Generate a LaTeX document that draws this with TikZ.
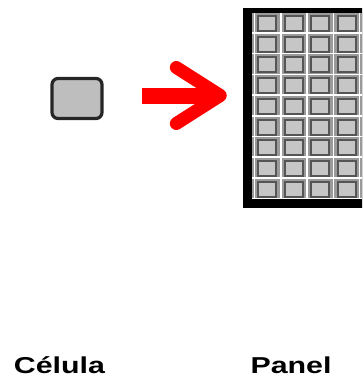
\documentclass[tikz,border=0pt]{standalone}
\usepackage{fontspec}
\setmainfont{Liberation Sans}
\newfontfamily\pvlabelfont[FakeStretch=1.32]{Liberation Sans Bold}
\usepackage{tikz}
\usetikzlibrary{arrows.meta,calc,positioning}
\definecolor{cellgray}{HTML}{BEBEBE}
\definecolor{cellline}{HTML}{262626}
\definecolor{modfill}{HTML}{C6C6C6}
\definecolor{modline}{HTML}{555555}
\definecolor{gapgray}{HTML}{9A9A9A}
\tikzset{
	pv diagram/.style={x=1pt,y=-1pt},
	cell/.style={draw=cellline,fill=cellgray,line width=3.2pt,
		rounded corners=6pt,minimum width=50pt,minimum height=40pt,inner sep=0pt},
	panel/.style={fill=black,minimum width=129pt,minimum height=200pt,inner sep=0pt},
	module/.style={draw=modline,fill=modfill,line width=2pt},
	gridline/.style={draw=white,line width=1.5pt},
	bigarrow/.style={draw=red,line width=16pt,
		-{Straight Barb[length=44pt,width=56pt,line width=13pt,round]}},
	pv name/.style={font=\fontsize{23}{26}\pvlabelfont,anchor=base,inner sep=0pt}
}
\begin{document}
\begin{tikzpicture}[pv diagram]
  \clip (0,0) rectangle (362,378);
  \node[cell] (cell) at (77,98.5) {};
  \node[panel] (panel) at (307.5,108) {};
  \fill[gapgray] ($(panel.north west)+(9,5)$) rectangle ($(panel.south east)+(-9,-9)$);
  % white lines between the modules
  \foreach \c in {0,...,4}
    \draw[gridline] (254.5+26.3*\c,13) -- (254.5+26.3*\c,199);
  \foreach \r in {0,...,8}
    \draw[gridline] (252,33+20.7*\r) -- (363,33+20.7*\r);
  % modules of the panel
  \foreach \c in {0,...,3}
    \foreach \r in {0,...,8}
      \draw[module] (258+26.67*\c,16+20.7*\r) rectangle ++(18,15);
  \draw[bigarrow, shorten <=38pt, shorten >=16pt]
    ([yshift=3pt]cell.east) -- ([yshift=3pt]cell.east -| panel.west);
  \node[pv name] (cellname) at (59.5,373.5) {Célula};
  \node[pv name] (panelname) at (291,373.5) {Panel};
\end{tikzpicture}
\end{document}
